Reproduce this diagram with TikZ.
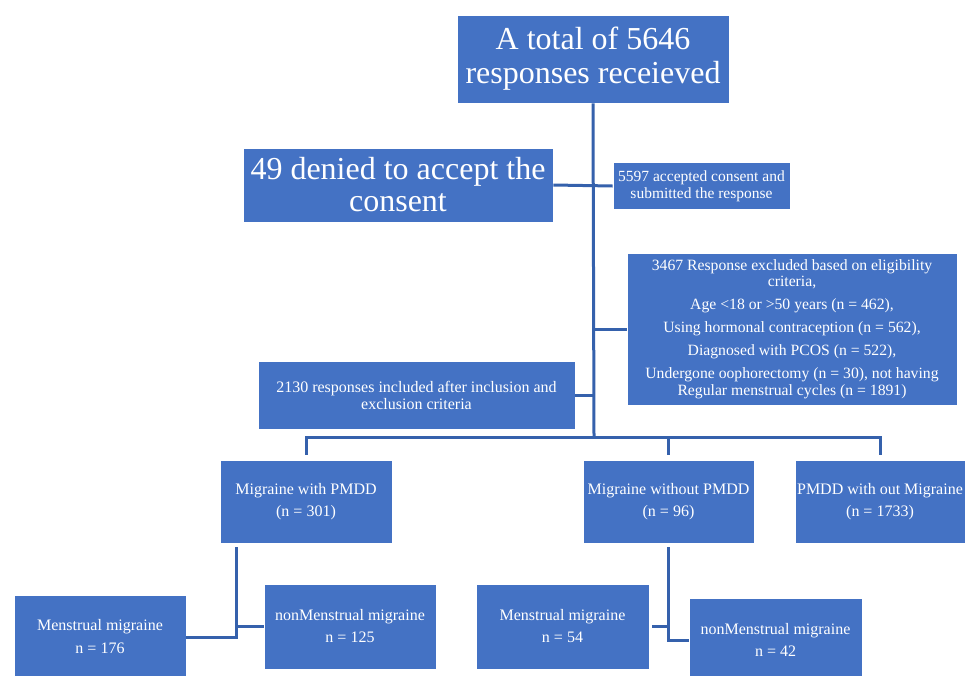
\documentclass[tikz,border=0pt]{standalone}
\usepackage{fontspec}
\setmainfont{Liberation Serif}
\usetikzlibrary{positioning}

\definecolor{boxblue}{HTML}{4472C4}
\definecolor{lineblue}{HTML}{3561AC}

\tikzset{
  box/.style={draw=white, line width=0.6pt, fill=boxblue, text=white, align=center, inner sep=0pt},
  link/.style={draw=lineblue, line width=3pt}
}

\begin{document}
\begin{tikzpicture}[x=1pt, y=-1pt]
\useasboundingbox (0,0) rectangle (965,675);

% top of the chart
\node [box, minimum width=272pt, minimum height=88pt, font=\fontsize{32}{34}\selectfont] (total) at (593, 59) {A total of 5646\\responses receieved};
\node [box, minimum width=310pt, minimum height=74pt, font=\fontsize{32}{32}\selectfont] (denied) at (398, 185) {49 denied to accept the\\consent};
\node [box, minimum width=177pt, minimum height=47pt, font=\fontsize{15.5}{17}\selectfont] (accepted) at (701.5, 186) {5597 accepted consent and\\submitted the response};
\node [box, minimum width=330pt, minimum height=152pt, font=\fontsize{15.7}{16.5}\selectfont] (excluded) at (792, 329) {3467 Response excluded based on eligibility\\criteria,\\[6.5pt]Age <18 or >50 years (n = 462),\\[6.5pt]Using hormonal contraception (n = 562),\\[6.5pt]Diagnosed with PCOS (n = 522),\\[6.5pt]Undergone oophorectomy (n = 30), not having\\Regular menstrual cycles (n = 1891)};
\node [box, minimum width=317pt, minimum height=68pt, font=\fontsize{16}{17}\selectfont] (included) at (416.5, 395) {2130 responses included after inclusion and\\exclusion criteria};

% groups
\node [box, minimum width=172pt, minimum height=83pt, font=\fontsize{16}{22}\selectfont] (mwp) at (306, 501.5) {Migraine with PMDD\\(n = 301)};
\node [box, minimum width=171pt, minimum height=83pt, font=\fontsize{16}{22}\selectfont] (mwop) at (668.5, 501.5) {Migraine without PMDD\\(n = 96)};
\node [box, minimum width=170pt, minimum height=83pt, font=\fontsize{16}{22}\selectfont] (pwom) at (880, 501.5) {PMDD with out Migraine\\(n = 1733)};

% sub groups
\node [box, minimum width=172pt, minimum height=83pt, font=\fontsize{16}{23}\selectfont] (mm1) at (100, 636.5) {Menstrual migraine\\n = 176};
\node [box, minimum width=172pt, minimum height=85pt, font=\fontsize{16}{22}\selectfont] (nm1) at (350, 626.5) {nonMenstrual migraine\\n = 125};
\node [box, minimum width=173pt, minimum height=85pt, font=\fontsize{16}{22}\selectfont] (mm2) at (562.5, 626.5) {Menstrual migraine\\n = 54};
\node [box, minimum width=173pt, minimum height=84pt, font=\fontsize{16}{22}\selectfont] (nm2) at (775.5, 640) {nonMenstrual migraine\\n = 42};

\coordinate (bus) at (594, 437);
\coordinate (fork1) at (236, 637);
\coordinate (fork2) at (668.5, 640);

% connectors
\draw [link] (total.south) -- (bus);
\draw [link] (denied.east) -- (accepted.west);
\draw [link] (bus |- excluded.west) -- (excluded.west);
\draw [link] (included.east) -- (bus |- included.east);
\draw [link] ([yshift=5pt]mwp.north) |- (bus) -| ([yshift=5pt]pwom.north);
\draw [link] ([yshift=5pt]mwop.north) -- (mwop.north |- bus);

\draw [link] ([yshift=-4pt]mwp.south -| fork1) -- (fork1) -- (mm1.east |- fork1);
\draw [link] (fork1 |- nm1.west) -- (nm1.west);
\draw [link] ([yshift=-4pt]mwop.south) -- (fork2) -- (nm2.west |- fork2);
\draw [link] ([xshift=3pt]mm2.east) -- (fork2 |- mm2.east);
\end{tikzpicture}
\end{document}
